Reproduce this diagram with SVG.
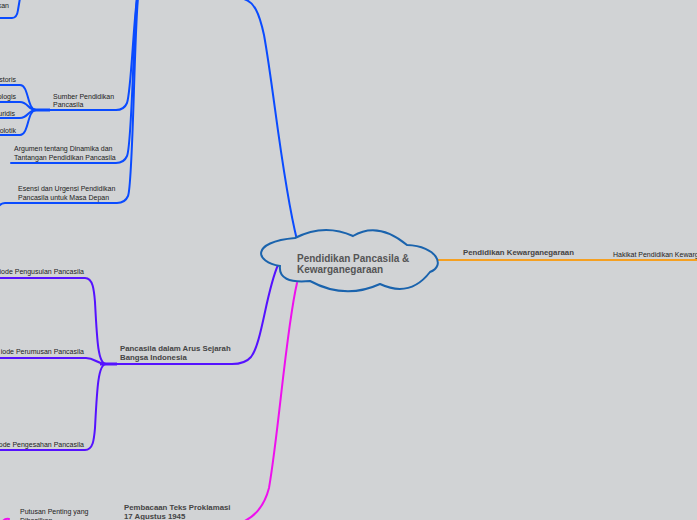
<svg xmlns="http://www.w3.org/2000/svg" width="697" height="520" viewBox="0 0 697 520">
<style>
.t{font-family:"Liberation Sans",Arial,sans-serif;font-size:7px;fill:#222}
.b{font-family:"Liberation Sans",Arial,sans-serif;font-size:7.8px;font-weight:bold;fill:#444}
.c{font-family:"Liberation Sans",Arial,sans-serif;font-size:10px;font-weight:bold;fill:#555}
.l{fill:none;stroke-width:2;stroke-linecap:round}
.blue{stroke:#0a4bff}
.purple{stroke:#5512ff}
.mag{stroke:#ee10ee}
.orange{stroke:#f5a021}
</style>
<rect width="697" height="520" fill="#d1d3d5"/>
<g id="connectors">
  <path class="l blue" d="M297,240 C282,180 274,90 264,35 C259,12 254,2 244,-1 L150,-1"/>
  <path class="l blue" d="M0,18 L12,18 Q17,18 18,10 L20,-2"/>
  <path class="l blue" d="M137,-2 C133,30 131,92 127,103 Q124,110 116,110 L50,110"/>
  <path class="l blue" d="M137,-2 C133,40 132,145 127,156 Q124,163 116,163 L11,163"/>
  <path class="l blue" d="M138,-2 C134,40 133,185 128,196 Q125,203 117,203 L5,203 Q1,203 -2,207"/>
  <path fill="none" stroke="#0a4bff" stroke-width="3" d="M33,110 L50,110"/>
  <path class="l blue" d="M-2,85 L20,85 C29,85 27,110 36,110"/>
  <path class="l blue" d="M-2,102 L20,102 C28,102 28,110 36,110"/>
  <path class="l blue" d="M-2,118 L20,118 C28,118 28,110 36,110"/>
  <path class="l blue" d="M-2,135 L20,135 C29,135 27,110 36,110"/>
  <path class="l orange" d="M436,260 L699,260"/>
  <path class="l purple" d="M278,265 C266,292 262,343 251,357 Q245,364 232,364 L104,364"/>
  <path fill="none" stroke="#5512ff" stroke-width="3" d="M100,364 L117,364"/>
  <path class="l purple" d="M-2,278 L85,278 C93,278 94,290 95,302 C97,340 98,364 106,364"/>
  <path class="l purple" d="M-2,358 L86,358 C95,358 97,364 106,364"/>
  <path class="l purple" d="M-2,450 L85,450 C93,450 94,440 95,428 C97,390 98,364 106,364"/>
  <path class="l mag" d="M297,283 C286,330 279,430 269,488 Q262,515 240,523"/>
  <path class="l mag" d="M2,522 Q5,518 9,519"/>
</g>
<g id="root">
  <path d="M295,238 Q324,223 353,236 Q378,221 407,245 C437,246 446,266 430,272 Q410,298 380,284 Q345,300 310,281 Q278,284 280,266 C255,262 250,242 295,238 Z" fill="#d1d3d5" stroke="#1a63ad" stroke-width="2"/>
  <text class="c" x="297" y="262">Pendidikan Pancasila &amp;</text>
  <text class="c" x="297" y="273">Kewarganegaraan</text>
</g>
<g id="n-top"><text class="t" x="9" y="8" text-anchor="end">kan</text></g>
<g id="n-sumber"><text class="t" x="53" y="99">Sumber Pendidikan</text><text class="t" x="53" y="107">Pancasila</text></g>
<g id="n-historis"><text class="t" x="16" y="82" text-anchor="end">storis</text></g>
<g id="n-sosiologis"><text class="t" x="16" y="99" text-anchor="end">ologis</text></g>
<g id="n-yuridis"><text class="t" x="15" y="116" text-anchor="end">uridis</text></g>
<g id="n-politik"><text class="t" x="16" y="133" text-anchor="end">olotik</text></g>
<g id="n-argumen"><text class="t" x="14" y="151">Argumen tentang Dinamika dan</text><text class="t" x="14" y="160">Tantangan Pendidikan Pancasila</text></g>
<g id="n-esensi"><text class="t" x="18" y="191">Esensi dan Urgensi Pendidikan</text><text class="t" x="18" y="200">Pancasila untuk Masa Depan</text></g>
<g id="n-pkn"><text class="b" x="463" y="255">Pendidikan Kewarganegaraan</text></g>
<g id="n-hakikat"><text class="t" x="613" y="257">Hakikat Pendidikan Kewarganegaraan</text></g>
<g id="n-sejarah"><text class="b" x="120" y="351">Pancasila dalam Arus Sejarah</text><text class="b" x="120" y="360">Bangsa Indonesia</text></g>
<g id="n-pengusulan"><text class="t" x="84" y="274" text-anchor="end">iode Pengusulan Pancasila</text></g>
<g id="n-perumusan"><text class="t" x="84" y="354" text-anchor="end">iode Perumusan Pancasila</text></g>
<g id="n-pengesahan"><text class="t" x="84" y="447" text-anchor="end">ode Pengesahan Pancasila</text></g>
<g id="n-proklamasi"><text class="b" x="124" y="510">Pembacaan Teks Proklamasi</text><text class="b" x="124" y="519">17 Agustus 1945</text></g>
<g id="n-putusan"><text class="t" x="20" y="514">Putusan Penting yang</text><text class="t" x="20" y="523">Dihasilkan</text></g>
</svg>
